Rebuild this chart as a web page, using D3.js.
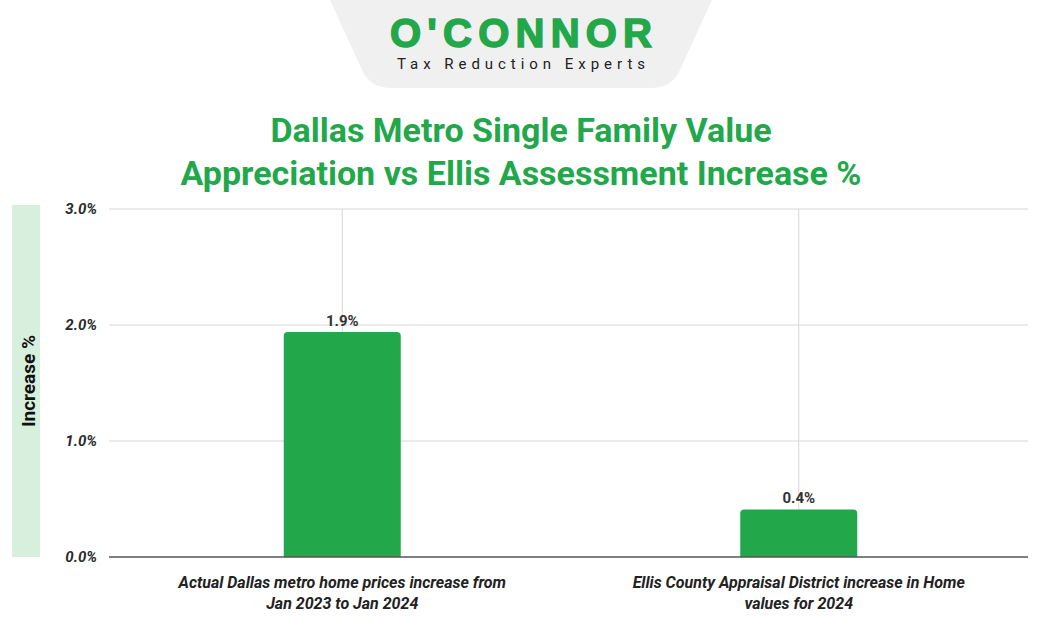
<!DOCTYPE html>
<html>
<head>
<meta charset="utf-8">
<script src="https://cdn.jsdelivr.net/npm/d3@7"></script>
<style>
body { margin: 0; background: #fff; }
text { font-family: Roboto, "Liberation Sans", sans-serif; }
</style>
</head>
<body>
<svg id="chart" width="1042" height="626"></svg>
<script>
const categories = [
    ["Actual Dallas metro home prices increase from", "Jan 2023 to Jan 2024"],
    ["Ellis County Appraisal District increase in Home", "values for 2024"]
];
const values = [1.94, 0.41];
const valueLabels = ["1.9%", "0.4%"];
const yTicks = [0, 1, 2, 3];

const margin = {left: 114, right: 15, top: 209, bottom: 69};
const width = 1042, height = 626;
const green = "#22a84a";

const svg = d3.select("#chart");

// logo tab
svg.append("path")
    .attr("d", "M330,0 L712,0 L680,70 Q672,88 650,88 L392,88 Q370,88 362,70 Z")
    .attr("fill", "#f0f0f0");
svg.append("text").text("O'CONNOR")
    .attr("x", 521).attr("y", 47).attr("text-anchor", "middle")
    .style("font-size", "40px").style("font-weight", 900).attr("fill", green)
    .style("font-family", "'Liberation Sans', sans-serif").attr("textLength", 262)
    .attr("stroke", green).attr("stroke-width", 1.5);
svg.append("text").text("Tax Reduction Experts")
    .attr("x", 521).attr("y", 69).attr("text-anchor", "middle")
    .style("font-size", "15px").attr("fill", "#222").attr("textLength", 248);

// title
svg.append("text").attr("text-anchor", "middle").attr("fill", green)
    .style("font-size", "34px").style("font-weight", 700)
    .selectAll("tspan")
    .data(["Dallas Metro Single Family Value", "Appreciation vs Ellis Assessment Increase %"])
    .join("tspan").attr("x", 521).attr("y", (d, i) => 142 + i * 43).text(d => d);

const yScale = d3.scaleLinear().domain([0, 3]).range([height - margin.bottom, margin.top]);
const xScale = d3.scaleBand().domain(d3.range(categories.length))
    .range([margin.left, width - margin.right]);
const plotLeft = 109, plotRight = 1028;

// y label band
svg.append("rect").attr("x", 12).attr("y", 205).attr("width", 28).attr("height", 352).attr("fill", "#d7f0de");
svg.append("text").text("Increase %")
    .attr("transform", `translate(35,${(205 + 557) / 2}) rotate(-90)`)
    .attr("text-anchor", "middle").style("font-size", "19px").style("font-weight", 700).attr("fill", "#111");

// grid
svg.append("g").selectAll("line").data(yTicks.slice(1)).join("line")
    .attr("x1", plotLeft).attr("x2", plotRight)
    .attr("y1", d => yScale(d)).attr("y2", d => yScale(d))
    .attr("stroke", "#d6d6d6");
svg.append("g").selectAll("line").data(d3.range(categories.length)).join("line")
    .attr("x1", d => xScale(d) + xScale.bandwidth() / 2).attr("x2", d => xScale(d) + xScale.bandwidth() / 2)
    .attr("y1", margin.top).attr("y2", yScale(0))
    .attr("stroke", "#d6d6d6");

// y ticks
svg.append("g").selectAll("text").data(yTicks).join("text")
    .attr("x", 97).attr("y", d => yScale(d) + 5).attr("text-anchor", "end")
    .style("font-size", "15px").style("font-weight", 700).style("font-style", "italic")
    .attr("fill", "#2a2a2a").text(d => d.toFixed(1) + "%");

// bars
const barW = 117;
svg.append("g").selectAll("path").data(values).join("path")
    .attr("d", (d, i) => {
        const x = xScale(i) + xScale.bandwidth() / 2 - barW / 2, y = yScale(d), h = yScale(0) - y, r = 4;
        return `M${x},${y + h} L${x},${y + r} Q${x},${y} ${x + r},${y} L${x + barW - r},${y} Q${x + barW},${y} ${x + barW},${y + r} L${x + barW},${y + h} Z`;
    })
    .attr("fill", green);

svg.append("g").selectAll("text").data(values).join("text")
    .attr("x", (d, i) => xScale(i) + xScale.bandwidth() / 2).attr("y", d => yScale(d) - 6)
    .attr("text-anchor", "middle").style("font-size", "15px").style("font-weight", 700).attr("fill", "#333")
    .text((d, i) => valueLabels[i]);

// x axis line
svg.append("line").attr("x1", plotLeft).attr("x2", plotRight)
    .attr("y1", yScale(0)).attr("y2", yScale(0)).attr("stroke", "#555").attr("stroke-width", 1.5);

// x labels
categories.forEach((lines, i) => {
    svg.append("text").attr("text-anchor", "middle").attr("fill", "#222")
        .style("font-size", "16px").style("font-weight", 700).style("font-style", "italic")
        .selectAll("tspan").data(lines).join("tspan")
        .attr("x", xScale(i) + xScale.bandwidth() / 2).attr("y", (d, j) => 588 + j * 21).text(d => d);
});
</script>
</body>
</html>
